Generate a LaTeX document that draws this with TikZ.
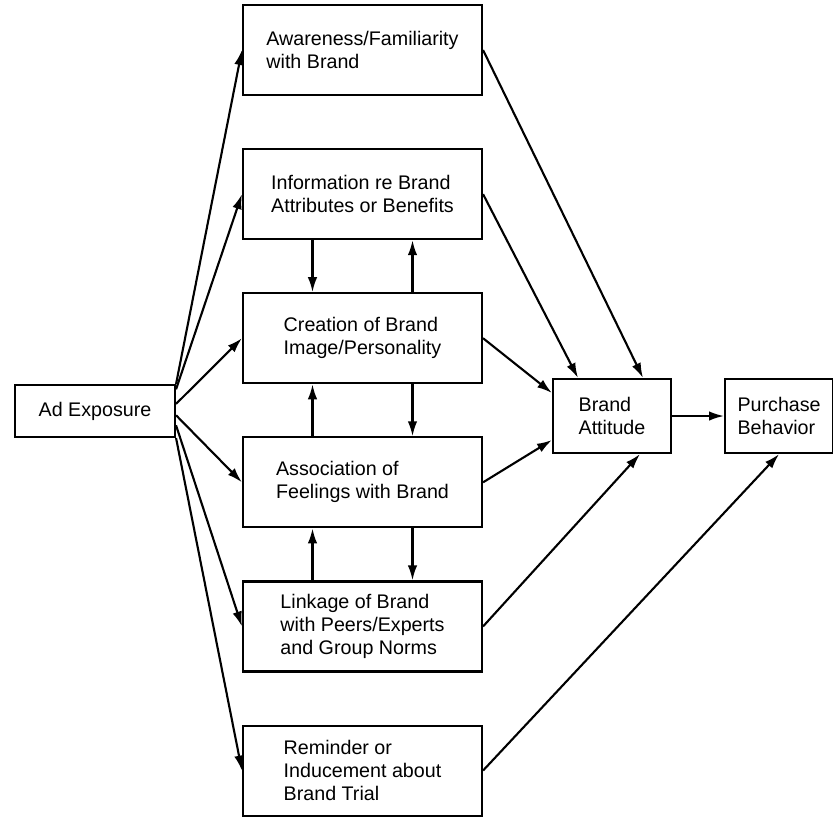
\documentclass[tikz,border=0pt]{standalone}
\usepackage{fontspec}
\setmainfont{Liberation Sans}
\usetikzlibrary{positioning,arrows.meta}

\begin{document}
\begin{tikzpicture}[
	box/.style={draw, line width=1.2pt, align=left,
		minimum width=4.78cm, minimum height=1.8cm,
		font=\fontsize{11.2}{13.1}\selectfont},
	arr/.style={-{Latex[length=3mm,width=1.9mm]}, line width=1.2pt}
	]
	\useasboundingbox (0,0) rectangle (16.66,-16.36);

	% Ad Exposure
	\node [box,
		minimum width=3.2cm,
		minimum height=1.04cm
		] (ad) at (1.9,-8.22) {Ad Exposure};

	% Awareness
	\node [box] (aw) at (7.25,-1.0) {Awareness/Familiarity\\with Brand};

	% Information
	\node [box,
		below=1.04cm of aw
		] (info) {Information re Brand\\Attributes or Benefits};

	% Brand Image
	\node [box,
		below=1.04cm of info
		] (cre) {Creation of Brand\\Image/Personality};

	% Feelings
	\node [box,
		below=1.04cm of cre
		] (asc) {Association of\\Feelings with Brand};

	% Peers
	\node [box,
		below=1.04cm of asc
		] (lnk) {Linkage of Brand\\with Peers/Experts\\and Group Norms};

	% Trial
	\node [box,
		below=1.04cm of lnk
		] (rem) {Reminder or\\Inducement about\\Brand Trial};

	% Brand Attitude
	\node [box,
		minimum width=2.36cm,
		minimum height=1.48cm
		] (ba) at (12.24,-8.32) {Brand\\Attitude};

	% Purchase Behavior
	\node [box,
		minimum width=2.16cm,
		minimum height=1.48cm,
		right=1.04cm of ba
		] (pb) {Purchase\\Behavior};

	% Arrows from ad exposure
	\draw[arr] (ad.north east) -- (aw.west);
	\draw[arr] (ad.15) -- (info.west);
	\draw[arr] (ad.5) -- (cre.west);
	\draw[arr] (ad.-3) -- (asc.west);
	\draw[arr] (ad.-10) -- (lnk.west);
	\draw[arr] (ad.south east) -- (rem.west);

	% Arrows between the middle boxes
	\draw[arr] ([xshift=-1cm]info.south) -- ([xshift=-1cm]cre.north);
	\draw[arr] ([xshift=1cm]cre.north) -- ([xshift=1cm]info.south);
	\draw[arr] ([xshift=-1cm]asc.north) -- ([xshift=-1cm]cre.south);
	\draw[arr] ([xshift=1cm]cre.south) -- ([xshift=1cm]asc.north);
	\draw[arr] ([xshift=-1cm]lnk.north) -- ([xshift=-1cm]asc.south);
	\draw[arr] ([xshift=1cm]asc.south) -- ([xshift=1cm]lnk.north);

	% Arrows to attitude and behavior
	\draw[arr] (aw.east) -- ([xshift=0.62cm]ba.north);
	\draw[arr] (info.east) -- ([xshift=-0.68cm]ba.north);
	\draw[arr] (cre.east) -- ([yshift=0.46cm]ba.west);
	\draw[arr] (asc.east) -- ([yshift=-0.48cm]ba.west);
	\draw[arr] (lnk.east) -- ([xshift=0.56cm]ba.south);
	\draw[arr] (rem.east) -- (pb.south);
	\draw[arr] (ba.east) -- (pb.west);

\end{tikzpicture}
\end{document}
